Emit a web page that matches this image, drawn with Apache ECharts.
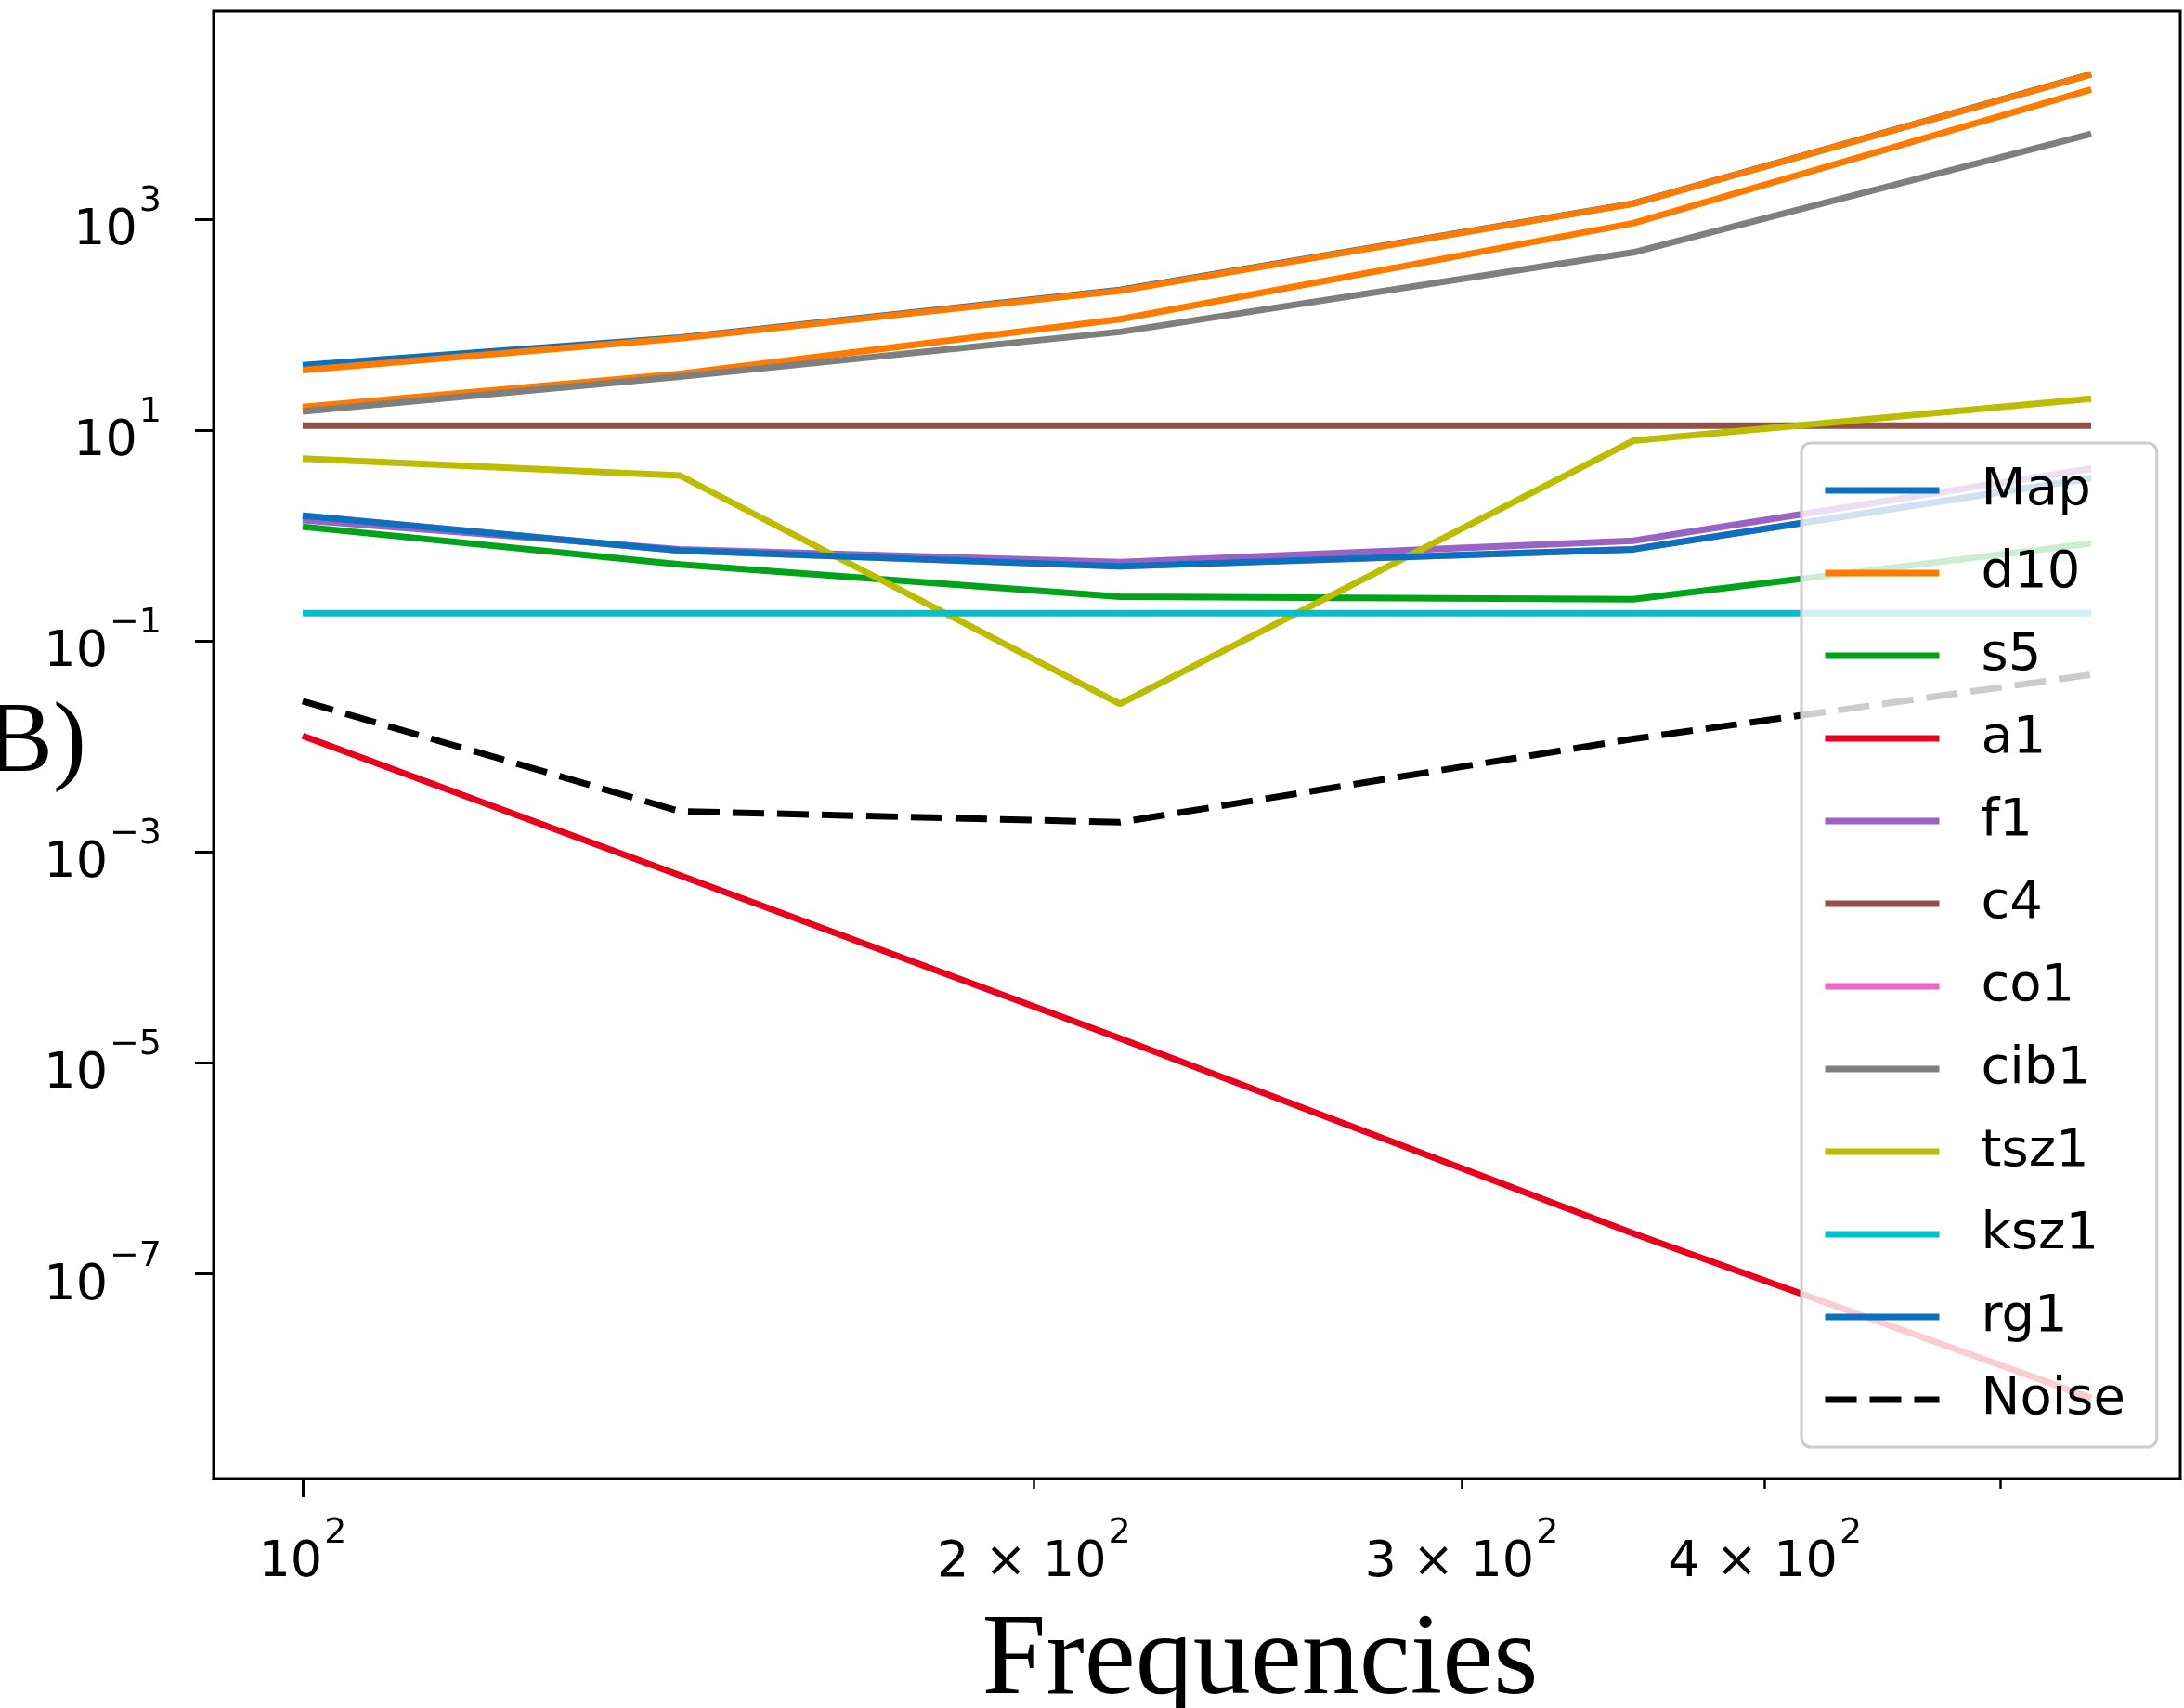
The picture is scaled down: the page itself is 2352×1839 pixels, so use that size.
<!DOCTYPE html>
<html>
<head>
<meta charset="utf-8">
<title>Frequencies</title>
<script src="https://cdn.jsdelivr.net/npm/echarts@6.0.0/dist/echarts.min.js"></script>
<style>
  html, body { margin: 0; padding: 0; background: #fff; }
  #chart { width: 2352px; height: 1839px; }
</style>
</head>
<body>
<div id="chart"></div>
<script>
// frequencies (GHz) of the five channels
var freqs = [100, 143, 217, 353, 545];

// component amplitudes
var mapVals   = [41, 75, 212, 1400, 23600];
var d10Top    = [37, 74, 209, 1395, 23500];
var d10Vals   = [16.5, 34, 112, 910, 16900];
var s5Vals    = [1.21, 0.53, 0.263, 0.248, 0.84];
var a1Vals    = [0.0126, 6.0e-4, 1.71e-5, 2.42e-7, 6.7e-9];
var f1Vals    = [1.40, 0.74, 0.56, 0.89, 4.3];
var c4Vals    = [11, 11, 11, 11, 11];
var co1Vals   = [1.54, 0.72, 0.51, 0.74, 3.5];
var cib1Vals  = [15.0, 32, 85, 482, 6400];
var tsz1Vals  = [5.35, 3.7, 0.0253, 7.9, 19.8];
var ksz1Vals  = [0.183, 0.183, 0.183, 0.183, 0.183];
var rg1Vals   = [1.54, 0.72, 0.51, 0.74, 3.5];
var noiseVals = [0.0269, 0.00243, 0.00191, 0.0118, 0.0479];

// ticks: mantissa / exponent pairs
var yTickValues = [1e-7, 1e-5, 1e-3, 1e-1, 1e1, 1e3];
var yTickBase = ['10', '10', '10', '10', '10', '10'];
var yTickExp = ['\u22127', '\u22125', '\u22123', '\u22121', '1', '3'];
var xLabelValues = [100, 200, 300, 400];
var xTickBase = ['10', '2 \u00D7 10', '3 \u00D7 10', '4 \u00D7 10'];
var xTickExp = ['2', '2', '2', '2'];
var xMinorTicks = [200, 300, 400, 500];

var legendNames = ['Map', 'd10', 's5', 'a1', 'f1', 'c4', 'co1', 'cib1', 'tsz1', 'ksz1', 'rg1', 'Noise'];

function pairs(vals) {
	return freqs.map(function(f, i) { return [f, vals[i]]; });
}

function pick(values, base, exp, v) {
	for (var i = 0; i < values.length; i++) {
		if (Math.abs(Math.log10(v) - Math.log10(values[i])) < 1e-6) {
			return '{b|' + base[i] + '}{s|' + exp[i] + '}';
		}
	}
	return '';
}

var tickRich = {
	b: { fontFamily: 'DejaVu Sans', fontSize: 54, lineHeight: 80, color: '#000', verticalAlign: 'bottom' },
	s: { fontFamily: 'DejaVu Sans', fontSize: 38, lineHeight: 38, color: '#000', verticalAlign: 'top', padding: [2, 0, 0, 2] }
};

function lineSeries(name, vals, color, dash) {
	return {
		name: name,
		type: 'line',
		data: pairs(vals),
		symbol: 'none',
		smooth: false,
		itemStyle: { color: color },
		lineStyle: { color: color, width: 7, type: dash || 'solid', cap: 'butt' },
		emphasis: { disabled: true }
	};
}

var xMin = 91.9, xMax = 593;
var yMin = Math.pow(10, -8.94), yMax = Math.pow(10, 4.97);

var myChart = echarts.init(document.getElementById('chart'), null, { renderer: 'canvas' });

var option = {
	backgroundColor: '#ffffff',
	animation: false,
	grid: {
		left: 230, right: 4, top: 12, bottom: 247,
		show: true, borderColor: '#000', borderWidth: 3,
		containLabel: false, outerBoundsMode: 'none'
	},
	legend: {
		orient: 'vertical',
		left: 1940, top: 477,
		padding: [23, 34, 23, 22],
		itemWidth: 123, itemHeight: 20, itemGap: 33,
		backgroundColor: 'rgba(255,255,255,0.8)',
		borderColor: '#cccccc', borderWidth: 3, borderRadius: 10,
		itemStyle: { opacity: 0, borderWidth: 0 },
		lineStyle: { width: 7 },
		textStyle: { fontFamily: 'DejaVu Sans', fontSize: 56, lineHeight: 56, color: '#000', padding: [0, 0, 0, 40] },
		data: legendNames
	},
	xAxis: [{
		type: 'log', logBase: 10, min: xMin, max: xMax, position: 'bottom',
		axisLine: { show: true, onZero: false, lineStyle: { color: '#000', width: 3 } },
		axisTick: { show: true, customValues: [100], length: 20, lineStyle: { color: '#000', width: 3 } },
		minorTick: { show: false },
		splitLine: { show: false },
		axisLabel: {
			show: true, customValues: xLabelValues, margin: 38,
			rich: tickRich,
			formatter: function(v) { return pick(xLabelValues, xTickBase, xTickExp, v); }
		},
		name: 'Frequencies', nameLocation: 'middle', nameGap: 136,
		nameTextStyle: { fontFamily: 'Liberation Serif', fontSize: 124, color: '#000', padding: [0, 0, 0, 136] }
	}, {
		type: 'log', logBase: 10, min: xMin, max: xMax, position: 'bottom',
		axisLine: { show: false, onZero: false },
		axisTick: { show: true, customValues: xMinorTicks, length: 11, lineStyle: { color: '#000', width: 2.5 } },
		axisLabel: { show: false },
		splitLine: { show: false }
	}],
	yAxis: {
		type: 'log', logBase: 10, min: yMin, max: yMax,
		axisLine: { show: true, lineStyle: { color: '#000', width: 3 } },
		axisTick: { show: true, customValues: yTickValues, length: 20, lineStyle: { color: '#000', width: 3 } },
		minorTick: { show: false },
		splitLine: { show: false },
		axisLabel: {
			show: true, customValues: yTickValues, margin: 56,
			rich: tickRich,
			formatter: function(v) { return pick(yTickValues, yTickBase, yTickExp, v); }
		},
		name: 'B)', nameLocation: 'middle', nameRotate: 0, nameGap: 137, nameMoveOverlap: false,
		nameTextStyle: { fontFamily: 'Liberation Serif', fontSize: 108, color: '#000', align: 'right', verticalAlign: 'middle' }
	},
	series: [
		lineSeries('Map', mapVals, '#0a70bf'),
		lineSeries('d10', d10Top, '#ff7b00'),
		lineSeries('d10', d10Vals, '#ff7b00'),
		lineSeries('s5', s5Vals, '#00a31a'),
		lineSeries('a1', a1Vals, '#e8001c'),
		lineSeries('f1', f1Vals, '#9a62c4'),
		lineSeries('c4', c4Vals, '#944f48'),
		lineSeries('co1', co1Vals, '#f066c4'),
		lineSeries('cib1', cib1Vals, '#7f7f7f'),
		lineSeries('tsz1', tsz1Vals, '#bcbc00'),
		lineSeries('ksz1', ksz1Vals, '#00bfcf'),
		lineSeries('rg1', rg1Vals, '#0a70bf'),
		lineSeries('Noise', noiseVals, '#000000', [34, 14])
	]
};

myChart.setOption(option, true);

window.onresize = function() {
	myChart.resize();
};
</script>
</body>
</html>
